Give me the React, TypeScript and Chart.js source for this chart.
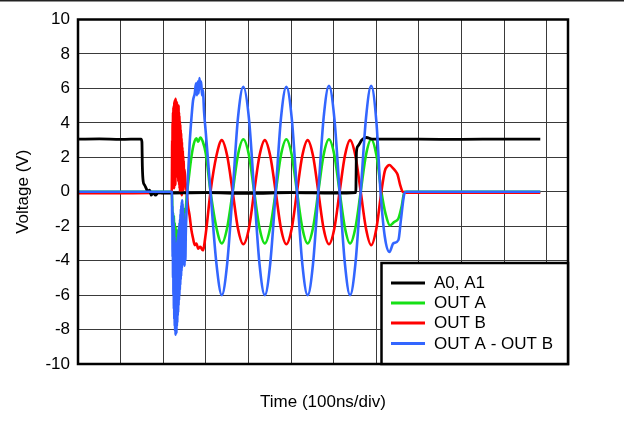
import React, { useEffect, useRef } from "react";
import { Chart, registerables } from "chart.js";

Chart.register(...registerables);

// x in divisions (100 ns/div), y in volts
const legendLabels = ["A0, A1", "OUT A", "OUT B", "OUT A - OUT B"];
const seriesColors = ["#000000", "#16e016", "#ff0000", "#3366ff"];

const yMin = -10;
const yMax = 10;
const yStep = 2;
const xMin = 0;
const xMax = 11.5;
const xStep = 1;

const a0a1: number[][] = [
  [0, 3.05], [0.5, 3.07], [1.0, 3.04], [1.48, 3.06], [1.5, 2.9], [1.51, 1.5], [1.53, 0.6],
  [1.56, 0.4], [1.6, 0.2], [1.64, 0.0], [1.68, 0.1], [1.72, -0.2], [1.76, -0.05], [1.82, -0.2],
  [1.88, -0.05], [2.0, -0.08], [3.0, -0.05], [4.0, -0.1], [5.0, -0.05], [6.0, -0.08],
  [6.52, -0.05], [6.535, 2.3], [6.57, 2.65], [6.66, 3.0], [6.77, 3.15], [6.9, 3.06],
  [7.5, 3.05], [8.0, 3.05], [9.0, 3.04], [10.0, 3.06], [10.85, 3.05],
];

const outA: number[][] = [
  [0, 0], [2.2, 0], [2.21, -0.5], [2.22, -2.0], [2.23, -1.2], [2.24, -2.8], [2.25, -1.4],
  [2.26, -3.3], [2.27, -1.8], [2.28, -3.6], [2.29, -2.0], [2.3, -3.4], [2.31, -2.2], [2.32, -3.6],
  [2.33, -2.4], [2.34, -3.3], [2.35, -2.2], [2.36, -2.9], [2.37, -2.0], [2.38, -2.7], [2.39, -1.8],
  [2.4, -2.6], [2.41, -1.6], [2.42, -2.4], [2.43, -1.4], [2.44, -2.2], [2.46, -1.3], [2.48, -1.9],
  [2.5, -1.0], [2.52, -1.2], [2.55, -0.3], [2.6, 0.8], [2.66, 2.0], [2.72, 2.8], [2.78, 3.1],
  [2.82, 2.9], [2.87, 3.15], [2.93, 2.9], [3.0, 2.2], [3.11, 0], [3.25, -2.1], [3.375, -3.0],
  [3.5, -2.1], [3.63, 0], [3.755, 2.15], [3.88, 3.05], [4.01, 2.15], [4.135, 0], [4.26, -2.1],
  [4.385, -3.0], [4.51, -2.1], [4.64, 0], [4.765, 2.15], [4.89, 3.05], [5.015, 2.15], [5.14, 0],
  [5.265, -2.1], [5.39, -3.0], [5.515, -2.1], [5.64, 0], [5.765, 2.15], [5.89, 3.05],
  [6.015, 2.15], [6.14, 0], [6.265, -2.1], [6.385, -3.0], [6.51, -2.1], [6.635, 0], [6.76, 2.15],
  [6.88, 3.05], [7.005, 2.1], [7.12, 0], [7.22, -1.3], [7.32, -1.95], [7.42, -1.75],
  [7.52, -1.55], [7.6, -0.8], [7.66, 0], [10.85, 0],
];

const outB: number[][] = [
  [0, -0.08], [2.2, -0.05], [2.205, 1.0], [2.21, 3.0], [2.215, 0.2], [2.22, 4.0], [2.225, 0.4],
  [2.23, 4.6], [2.235, 0.3], [2.24, 4.9], [2.245, 0.6], [2.25, 5.0], [2.255, 0.2], [2.26, 5.2],
  [2.265, 0.5], [2.27, 5.3], [2.275, 0.8], [2.28, 5.2], [2.285, 0.4], [2.29, 5.4], [2.295, 1.0],
  [2.3, 5.3], [2.305, 0.9], [2.31, 5.1], [2.315, 1.2], [2.32, 5.2], [2.325, 0.9], [2.33, 4.9],
  [2.335, 1.1], [2.34, 5.0], [2.345, 0.8], [2.35, 4.8], [2.355, 0.6], [2.36, 5.0], [2.365, 0.7],
  [2.37, 4.6], [2.375, 0.4], [2.38, 4.4], [2.385, 0.2], [2.39, 4.1], [2.395, 0.0], [2.4, 3.9],
  [2.405, 0.3], [2.41, 3.6], [2.415, -0.1], [2.42, 3.4], [2.425, 0.1], [2.43, 3.1],
  [2.435, -0.2], [2.44, 2.9], [2.445, 0.3], [2.45, 2.6], [2.455, 0.0], [2.46, 2.4],
  [2.465, 0.4], [2.47, 2.1], [2.475, 0.1], [2.48, 1.8], [2.49, 0.3], [2.5, 1.3], [2.52, 0.6],
  [2.55, 0.0], [2.58, -0.8], [2.62, -1.4], [2.66, -2.2], [2.7, -2.7], [2.74, -3.1], [2.78, -3.0],
  [2.82, -3.3], [2.87, -3.2], [2.93, -3.4], [3.0, -2.4], [3.11, 0], [3.25, 2.1], [3.375, 3.0],
  [3.5, 2.1], [3.63, 0], [3.755, -2.15], [3.88, -3.05], [4.01, -2.15], [4.135, 0], [4.26, 2.1],
  [4.385, 3.0], [4.51, 2.1], [4.64, 0], [4.765, -2.15], [4.89, -3.05], [5.015, -2.15],
  [5.14, 0], [5.265, 2.1], [5.39, 3.0], [5.515, 2.1], [5.64, 0], [5.765, -2.15], [5.89, -3.05],
  [6.015, -2.15], [6.14, 0], [6.265, 2.1], [6.385, 3.0], [6.51, 2.1], [6.635, 0],
  [6.76, -2.15], [6.88, -3.1], [7.005, -2.1], [7.12, 0], [7.2, 1.2], [7.27, 1.5], [7.31, 1.55],
  [7.38, 1.4], [7.45, 1.2], [7.5, 1.0], [7.56, 0.4], [7.62, 0], [7.7, -0.05], [10.85, -0.05],
];

const outAminusB: number[][] = [
  [0, 0], [2.2, 0], [2.205, -0.3], [2.21, -2.0], [2.215, -0.8], [2.22, -3.8], [2.225, -1.2],
  [2.23, -5.0], [2.235, -1.4], [2.24, -6.0], [2.245, -1.8], [2.25, -6.8], [2.255, -2.2],
  [2.26, -7.4], [2.265, -2.6], [2.27, -7.8], [2.275, -3.0], [2.28, -8.1], [2.285, -3.2],
  [2.29, -8.3], [2.295, -3.6], [2.3, -8.0], [2.305, -3.4], [2.31, -8.2], [2.315, -3.0],
  [2.32, -7.8], [2.325, -3.2], [2.33, -7.6], [2.335, -2.8], [2.34, -7.2], [2.345, -2.6],
  [2.35, -7.0], [2.355, -2.4], [2.36, -6.6], [2.365, -2.2], [2.37, -6.3], [2.375, -2.0],
  [2.38, -6.0], [2.385, -1.8], [2.39, -5.7], [2.395, -1.6], [2.4, -5.4], [2.405, -1.3],
  [2.41, -5.1], [2.415, -1.0], [2.42, -4.9], [2.425, -0.8], [2.43, -4.6], [2.435, -0.6],
  [2.44, -4.4], [2.445, -0.5], [2.45, -4.2], [2.455, -0.7], [2.46, -4.0], [2.465, -0.9],
  [2.47, -3.9], [2.475, -1.2], [2.48, -4.1], [2.49, -1.6], [2.5, -4.3], [2.51, -2.2],
  [2.52, -4.0], [2.53, -2.4], [2.55, -1.0], [2.58, 0.8], [2.62, 2.8], [2.66, 4.2],
  [2.7, 5.3], [2.74, 5.7], [2.77, 6.3], [2.79, 5.6], [2.81, 6.4], [2.83, 5.7], [2.85, 6.6],
  [2.87, 6.0], [2.89, 6.4], [2.91, 5.6], [2.93, 5.9], [2.96, 4.6], [3.0, 3.4], [3.11, 0],
  [3.25, -4.2], [3.375, -6.0], [3.5, -4.2], [3.63, 0], [3.755, 4.3], [3.88, 6.1], [4.01, 4.3],
  [4.135, 0], [4.26, -4.2], [4.385, -6.0], [4.51, -4.2], [4.64, 0], [4.765, 4.3], [4.89, 6.1],
  [5.015, 4.3], [5.14, 0], [5.265, -4.2], [5.39, -6.0], [5.515, -4.2], [5.64, 0], [5.765, 4.3],
  [5.89, 6.15], [6.015, 4.3], [6.14, 0], [6.265, -4.2], [6.385, -6.0], [6.51, -4.2],
  [6.635, 0], [6.76, 4.3], [6.88, 6.15], [7.005, 4.0], [7.1, 0], [7.2, -2.6], [7.31, -3.5],
  [7.4, -3.0], [7.52, -2.8], [7.58, -1.6], [7.66, -0.1], [7.7, 0], [10.85, 0],
];

const seriesData = [a0a1, outA, outB, outAminusB];
const drawOrder = [1, 3, 2, 0]; // lower = drawn on top

const FONT = '"Liberation Sans", Arial, sans-serif';

const framePlugin = {
  id: "frameAndLegend",
  afterDatasetsDraw(chart: any) {
    const { ctx, chartArea: a } = chart;
    ctx.save();
    // thin rule across top of image
    ctx.fillStyle = "#222";
    ctx.fillRect(0, 0, chart.width, 1.5);
    // plot frame
    ctx.strokeStyle = "#000";
    ctx.lineWidth = 2.5;
    ctx.strokeRect(a.left, a.top, a.right - a.left, a.bottom - a.top);
    // legend box in lower-right corner
    const lx = 381.5;
    const ly = 263;
    const lw = a.right - lx;
    const lh = a.bottom - ly;
    ctx.fillStyle = "#fff";
    ctx.fillRect(lx, ly, lw, lh);
    ctx.lineWidth = 2.5;
    ctx.strokeRect(lx, ly, lw, lh);
    ctx.font = `17px ${FONT}`;
    ctx.textBaseline = "middle";
    ctx.textAlign = "left";
    const rowY = [283, 303, 323, 343.5];
    legendLabels.forEach((lab, i) => {
      ctx.strokeStyle = seriesColors[i];
      ctx.lineWidth = 3;
      ctx.beginPath();
      ctx.moveTo(391, rowY[i]);
      ctx.lineTo(425, rowY[i]);
      ctx.stroke();
      ctx.fillStyle = "#000";
      ctx.fillText(lab, 434, rowY[i] + 0.5);
    });
    ctx.restore();
  },
};

export default function App() {
  const ref = useRef<HTMLCanvasElement | null>(null);

  useEffect(() => {
    if (!ref.current) return;
    const chart = new Chart(ref.current, {
      type: "line",
      data: {
        datasets: seriesData.map((s, i) => ({
          label: legendLabels[i],
          data: s.map(([x, y]) => ({ x, y })),
          borderColor: seriesColors[i],
          backgroundColor: seriesColors[i],
          borderWidth: i === 0 ? 2.8 : 2.6,
          pointRadius: 0,
          cubicInterpolationMode: "monotone",
          fill: false,
          order: drawOrder[i],
        })),
      },
      plugins: [framePlugin],
      options: {
        animation: false,
        responsive: false,
        devicePixelRatio: 1,
        layout: { padding: { left: 0, top: 19.5, right: 56, bottom: 0 } },
        plugins: {
          legend: { display: false },
          tooltip: { enabled: false },
        },
        scales: {
          x: {
            type: "linear",
            min: xMin,
            max: xMax,
            ticks: { display: false, stepSize: xStep, includeBounds: false },
            grid: { color: "#3a3a3a", lineWidth: 1, drawTicks: false },
            border: { display: false },
            title: {
              display: true,
              text: "Time (100ns/div)",
              color: "#000",
              font: { family: FONT, size: 17 },
              padding: { top: 0, bottom: 11 },
            },
            afterFit: (s: any) => {
              s.height = 60;
            },
          },
          y: {
            type: "linear",
            min: yMin,
            max: yMax,
            ticks: {
              stepSize: yStep,
              color: "#000",
              padding: 8,
              font: { family: FONT, size: 17 },
            },
            grid: { color: "#3a3a3a", lineWidth: 1, drawTicks: false },
            border: { display: false },
            title: {
              display: true,
              text: "Voltage (V)",
              color: "#000",
              font: { family: FONT, size: 17 },
              padding: { top: 13, bottom: 0 },
            },
            afterFit: (s: any) => {
              s.width = 78;
            },
          },
        },
      },
    } as any);
    return () => chart.destroy();
  }, []);

  return (
    <div
      style={{
        position: "fixed",
        left: 0,
        top: 0,
        width: 624,
        height: 424,
        background: "#fff",
      }}
    >
      <canvas ref={ref} width={624} height={424} style={{ display: "block" }} />
    </div>
  );
}
